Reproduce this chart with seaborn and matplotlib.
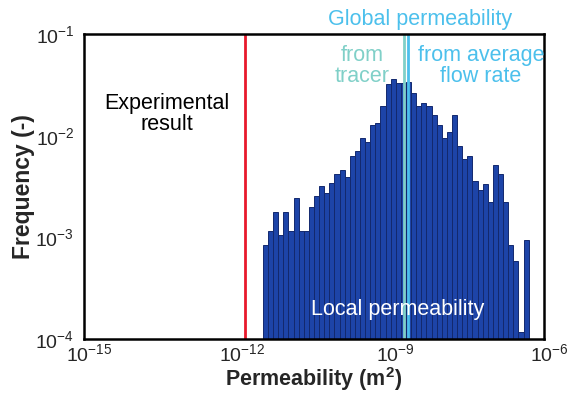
import numpy as np
import pandas as pd
import matplotlib
matplotlib.use("Agg")
import matplotlib.pyplot as plt
import matplotlib.ticker as mticker
import matplotlib.transforms as mtransforms
import seaborn as sns

# ---- data (log10 values) ----
bin_start_log = -11.5      # left edge of first bin, log10(m^2)
bin_width_log = 0.1        # decade width of each bin
freq_log10 = [
    -3.08, -2.94, -2.75, -2.98, -2.75, -2.94, -2.61, -2.94, -2.94, -2.70,
    -2.59, -2.50, -2.56, -2.47, -2.38, -2.34, -2.41, -2.20, -2.15, -2.02,
    -2.06, -1.90, -1.88, -1.71, -1.49, -1.44, -1.48, -1.48,
    -1.47, -1.58, -1.71, -1.68, -1.71, -1.80, -1.90, -2.02, -1.96, -1.80,
    -2.10, -2.23, -2.20, -2.45, -2.53, -2.48, -2.65, -2.29, -2.38, -2.65,
    -3.08, -3.23, -3.93, -3.03,
]
experimental_k = 10 ** -11.85
tracer_k = 10 ** -8.73
flowrate_k = 10 ** -8.66
x_ticks = [1e-15, 1e-12, 1e-9, 1e-6]
y_ticks = [1e-4, 1e-3, 1e-2, 1e-1]

n = len(freq_log10)
bin_end_log = bin_start_log + bin_width_log * n
centers = 10 ** (bin_start_log + bin_width_log * (np.arange(n) + 0.5))
df = pd.DataFrame({"k": centers, "freq": 10 ** np.array(freq_log10)})

sns.set_style("white")
plt.rcParams["font.family"] = ["Liberation Sans", "DejaVu Sans"]
plt.rcParams["mathtext.fontset"] = "custom"
plt.rcParams["mathtext.rm"] = "Liberation Sans"
plt.rcParams["mathtext.it"] = "Liberation Sans:italic"
plt.rcParams["mathtext.bf"] = "Liberation Sans:bold"
plt.rcParams["mathtext.default"] = "regular"

fig = plt.figure(figsize=(5.68, 3.94), dpi=100)
ax = fig.add_axes([84 / 568, 1 - 339 / 394, 460 / 568, 305 / 394])

sns.histplot(data=df, x="k", weights="freq", binwidth=bin_width_log,
             binrange=(bin_start_log, bin_end_log - 1e-6), log_scale=(True, False),
             color="#1d44a8", edgecolor="#13296e", linewidth=0.7, alpha=1, ax=ax)
ax.set_yscale("log")
ax.set_xlim(1e-15, 1e-6)
ax.set_ylim(1e-4, 1e-1)

ax.axvline(experimental_k, color="#e8192c", lw=2)
ax.axvline(tracer_k, color="#80d0c8", lw=2)
ax.axvline(flowrate_k, color="#4cc0ec", lw=2)

ax.set_xticks(x_ticks)
ax.set_yticks(y_ticks)
fmt = mticker.LogFormatterMathtext()
ax.xaxis.set_major_formatter(fmt)
ax.yaxis.set_major_formatter(fmt)
ax.xaxis.set_minor_locator(mticker.FixedLocator([1e-14, 1e-13, 1e-11, 1e-10, 1e-8, 1e-7]))
ax.xaxis.set_minor_formatter(mticker.NullFormatter())
ax.yaxis.set_minor_locator(mticker.NullLocator())
ax.tick_params(axis="both", which="major", direction="in", length=3, width=0.8,
               labelsize=14, color="#999999")
ax.tick_params(axis="x", which="minor", direction="in", length=3, width=0.8, color="#bbbbbb")
ax.tick_params(axis="x", which="major", pad=3)
ax.tick_params(axis="y", which="major", pad=7)

# the reference's x tick labels sit a few pixels right of their ticks
shift = mtransforms.ScaledTranslation(5 / 100, 0, fig.dpi_scale_trans)
for lab in ax.get_xticklabels():
    lab.set_transform(lab.get_transform() + shift)

for s in ax.spines.values():
    s.set_color("black")
    s.set_linewidth(1.8)

ax.set_xlabel("Permeability (m$^{\\mathbf{2}}$)", fontsize=15.5, fontweight="bold", labelpad=0)
ax.set_ylabel("Frequency (-)", fontsize=16.5, fontweight="bold", labelpad=0)

txt_size = 15.5
ax.text(167 / 568, 1 - 114 / 394, "Experimental\nresult", transform=fig.transFigure,
        ha="center", va="center", fontsize=txt_size, color="black", linespacing=1.05)
ax.text(420 / 568, 1 - 19 / 394, "Global permeability", transform=fig.transFigure,
        ha="center", va="center", fontsize=txt_size, color="#4cc0ec")
ax.text(362 / 568, 1 - 66 / 394, "from\ntracer", transform=fig.transFigure,
        ha="center", va="center", fontsize=txt_size, color="#80d0c8", linespacing=1.05)
ax.text(481 / 568, 1 - 66 / 394, "from average\nflow rate", transform=fig.transFigure,
        ha="center", va="center", fontsize=txt_size, color="#4cc0ec", linespacing=1.05)
ax.text(398 / 568, 1 - 309 / 394, "Local permeability", transform=fig.transFigure,
        ha="center", va="center", fontsize=txt_size, color="white")

fig.savefig("out.png", dpi=100)
